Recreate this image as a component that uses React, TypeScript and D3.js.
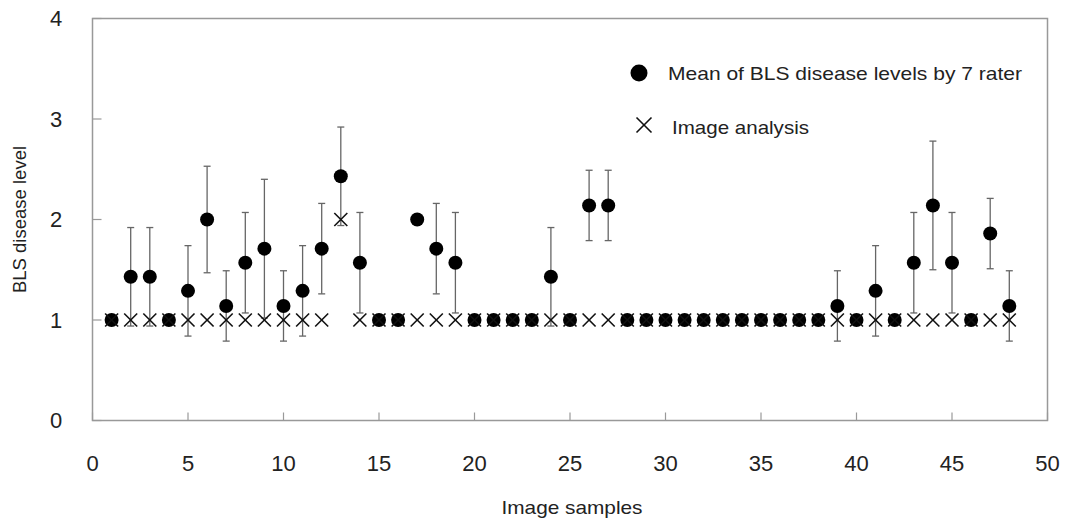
import React from "react";
import * as d3 from "d3";

const samples: number[] = [
  1, 2, 3, 4, 5, 6, 7, 8, 9, 10, 11, 12, 13, 14, 15, 16, 17, 18, 19, 20, 21, 22, 23, 24,
  25, 26, 27, 28, 29, 30, 31, 32, 33, 34, 35, 36, 37, 38, 39, 40, 41, 42, 43, 44, 45, 46, 47, 48,
];
const meanRater: number[] = [
  1, 1.43, 1.43, 1, 1.29, 2, 1.14, 1.57, 1.71, 1.14,
  1.29, 1.71, 2.43, 1.57, 1, 1, 2, 1.71, 1.57, 1,
  1, 1, 1, 1.43, 1, 2.14, 2.14, 1, 1, 1,
  1, 1, 1, 1, 1, 1, 1, 1, 1.14, 1,
  1.29, 1, 1.57, 2.14, 1.57, 1, 1.86, 1.14,
];
const sdRater: number[] = [
  0, 0.49, 0.49, 0, 0.45, 0.53, 0.35, 0.5, 0.69, 0.35,
  0.45, 0.45, 0.49, 0.5, 0, 0, 0, 0.45, 0.5, 0,
  0, 0, 0, 0.49, 0, 0.35, 0.35, 0, 0, 0,
  0, 0, 0, 0, 0, 0, 0, 0, 0.35, 0,
  0.45, 0, 0.5, 0.64, 0.5, 0, 0.35, 0.35,
];
const imageAnalysis: number[] = [
  1, 1, 1, 1, 1, 1, 1, 1, 1, 1,
  1, 1, 2, 1, 1, 1, 1, 1, 1, 1,
  1, 1, 1, 1, 1, 1, 1, 1, 1, 1,
  1, 1, 1, 1, 1, 1, 1, 1, 1, 1,
  1, 1, 1, 1, 1, 1, 1, 1,
];
const xTicks: number[] = [0, 5, 10, 15, 20, 25, 30, 35, 40, 45, 50];
const yTicks: number[] = [0, 1, 2, 3, 4];
const legendLabels: string[] = ["Mean of BLS disease levels by 7 rater", "Image analysis"];

const W = 1069;
const H = 520;
const left = 92.5;
const right = 1047.5;
const top = 18.5;
const bottom = 420.5;
const font = "'Liberation Sans', Arial, sans-serif";
const textColor = "#222";
const axisColor = "#999";
const barColor = "#666";

export default function App() {
  const x = d3.scaleLinear().domain([0, 50]).range([left, right]);
  const y = d3.scaleLinear().domain([0, 4]).range([bottom, top]);
  const cap = 3.5;
  const r = 7;
  const xs = 6.5;

  const xMark = (cx: number, cy: number, s: number, key: string | number) => (
    <g key={key} stroke="#111" strokeWidth={1.6}>
      <line x1={cx - s} y1={cy - s} x2={cx + s} y2={cy + s} />
      <line x1={cx - s} y1={cy + s} x2={cx + s} y2={cy - s} />
    </g>
  );

  return (
    <svg width={W} height={H} style={{ position: "absolute", left: 0, top: 0, background: "#fff" }}>
      {/* frame */}
      <rect x={left} y={top} width={right - left} height={bottom - top} fill="none" stroke={axisColor} strokeWidth={1.5} />
      {/* y ticks */}
      {yTicks.map((t) => (
        <g key={"y" + t}>
          <line x1={left} x2={left + 9} y1={y(t)} y2={y(t)} stroke={axisColor} strokeWidth={1.2} />
          <text x={56} y={y(t)} dy="0.36em" textAnchor="middle" fontFamily={font} fontSize={22} fill={textColor}>
            {t}
          </text>
        </g>
      ))}
      {/* x ticks */}
      {xTicks.map((t) => (
        <g key={"x" + t}>
          <line x1={x(t)} x2={x(t)} y1={bottom} y2={bottom - 8} stroke={axisColor} strokeWidth={1.2} />
          <text x={x(t)} y={471} textAnchor="middle" fontFamily={font} fontSize={22} fill={textColor}>
            {t}
          </text>
        </g>
      ))}
      <text
        x={572}
        y={514}
        textAnchor="middle"
        fontFamily={font}
        fontSize={19}
        fill={textColor}
        textLength={141}
        lengthAdjust="spacingAndGlyphs"
      >
        Image samples
      </text>
      <text
        transform={`translate(26,${y(2)}) rotate(-90)`}
        textAnchor="middle"
        fontFamily={font}
        fontSize={18.5}
        fill={textColor}
      >
        BLS disease level
      </text>

      {/* error bars */}
      {samples.map((s, i) =>
        sdRater[i] > 0 ? (
          <g key={"e" + s} stroke={barColor} strokeWidth={1.3}>
            <line x1={x(s)} x2={x(s)} y1={y(meanRater[i] + sdRater[i])} y2={y(meanRater[i] - sdRater[i])} />
            <line x1={x(s) - cap} x2={x(s) + cap} y1={y(meanRater[i] + sdRater[i])} y2={y(meanRater[i] + sdRater[i])} />
            <line x1={x(s) - cap} x2={x(s) + cap} y1={y(meanRater[i] - sdRater[i])} y2={y(meanRater[i] - sdRater[i])} />
          </g>
        ) : null
      )}
      {/* rater means */}
      {samples.map((s, i) => (
        <circle key={"c" + s} cx={x(s)} cy={y(meanRater[i])} r={r} fill="#000" />
      ))}
      {/* image analysis */}
      {samples.map((s, i) => xMark(x(s), y(imageAnalysis[i]), xs, "m" + s))}

      {/* legend */}
      <circle cx={639} cy={73} r={8.5} fill="#000" />
      <text
        x={668}
        y={73}
        dy="0.36em"
        fontFamily={font}
        fontSize={19}
        fill={textColor}
        textLength={354}
        lengthAdjust="spacingAndGlyphs"
      >
        {legendLabels[0]}
      </text>
      {xMark(644, 125, 7.5, "lg")}
      <text
        x={672}
        y={127}
        dy="0.36em"
        fontFamily={font}
        fontSize={19}
        fill={textColor}
        textLength={137}
        lengthAdjust="spacingAndGlyphs"
      >
        {legendLabels[1]}
      </text>
    </svg>
  );
}
